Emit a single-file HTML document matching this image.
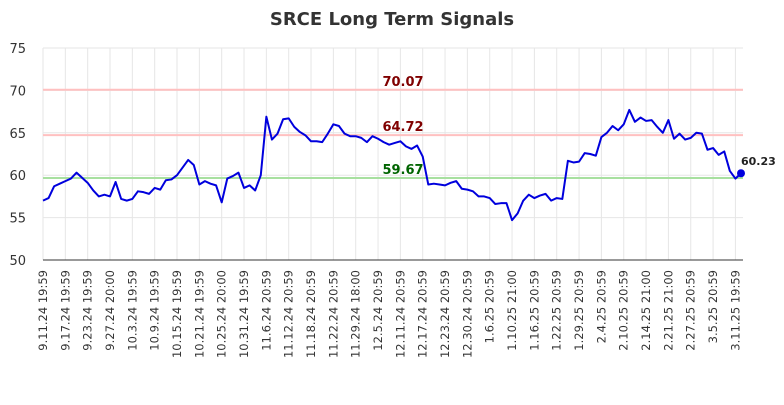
<!DOCTYPE html>
<html><head><meta charset="utf-8"><style>
body{margin:0;background:#fff;font-family:"Liberation Sans","DejaVu Sans",sans-serif}
svg text{font-family:"DejaVu Sans","Liberation Sans",sans-serif}
</style></head><body>
<svg id="chart" width="784" height="400" xmlns="http://www.w3.org/2000/svg">
<text x="392" y="25" text-anchor="middle" font-size="18" font-weight="bold" fill="#333">SRCE Long Term Signals</text>
<g id="grid"></g><g id="lines"></g><g id="axes"></g>
</svg>
<script>
const values=[57.0,57.3,58.7,59.0,59.3,59.6,60.3,59.7,59.1,58.2,57.5,57.7,57.5,59.2,57.2,57.0,57.2,58.1,58.0,57.8,58.5,58.3,59.4,59.5,60.0,60.9,61.8,61.2,58.9,59.3,59.0,58.8,56.8,59.6,59.9,60.3,58.5,58.8,58.2,60.0,66.9,64.2,64.9,66.6,66.7,65.7,65.1,64.7,64.0,64.0,63.9,64.9,66.0,65.8,64.9,64.6,64.6,64.4,63.9,64.6,64.3,63.9,63.6,63.8,64.0,63.4,63.1,63.5,62.2,58.9,59.0,58.9,58.8,59.1,59.3,58.4,58.3,58.1,57.5,57.5,57.3,56.6,56.7,56.7,54.7,55.5,57.0,57.7,57.3,57.6,57.8,57.0,57.3,57.2,61.7,61.5,61.6,62.6,62.5,62.3,64.5,65.0,65.8,65.3,66.0,67.7,66.3,66.8,66.4,66.5,65.7,65.0,66.5,64.3,64.9,64.2,64.4,65.0,64.9,63.0,63.2,62.4,62.8,60.5,59.6,60.23];
const xLabels=["9.11.24 19:59","9.17.24 19:59","9.23.24 19:59","9.27.24 20:00","10.3.24 19:59","10.9.24 19:59","10.15.24 19:59","10.21.24 19:59","10.25.24 20:00","10.31.24 19:59","11.6.24 20:59","11.12.24 20:59","11.18.24 20:59","11.22.24 20:59","11.29.24 18:00","12.5.24 20:59","12.11.24 20:59","12.17.24 20:59","12.23.24 20:59","12.30.24 20:59","1.6.25 20:59","1.10.25 21:00","1.16.25 20:59","1.22.25 20:59","1.29.25 20:59","2.4.25 20:59","2.10.25 20:59","2.14.25 21:00","2.21.25 21:00","2.27.25 20:59","3.5.25 20:59","3.11.25 19:59"];
const yTicks=[50,55,60,65,70,75];
const levels=[70.07,64.72,59.67];
const levelColors=["#ffc0c0","#ffc0c0","#a8e0a0"];
const levelText=["#800000","#800000","#006400"];
const lastValue=60.23;
const NS="http://www.w3.org/2000/svg";
const X0=43,X1=741,Y0=260,Y1=48,VMIN=50,VMAX=75;
const xs=i=>X0+i*(X1-X0)/(values.length-1);
const ys=v=>Y0-(v-VMIN)*(Y0-Y1)/(VMAX-VMIN);
function mk(t,a,p){const e=document.createElementNS(NS,t);for(const k in a)e.setAttribute(k,a[k]);p.appendChild(e);return e;}
const grid=document.getElementById('grid'),lines=document.getElementById('lines'),axes=document.getElementById('axes');
yTicks.forEach(v=>{
 const l=mk('line',{x1:X0,x2:743,y1:ys(v),y2:ys(v),stroke:'#e6e6e6','stroke-width':1},grid);
 
 
 const t=mk('text',{x:26,y:ys(v)+5,'text-anchor':'end','font-size':13,fill:'#333'},axes);
 t.textContent=v;
 
 
});
xLabels.forEach((s,k)=>{
 const x=xs(k*4);
 const l=mk('line',{x1:x,x2:x,y1:Y1,y2:Y0,stroke:'#e6e6e6','stroke-width':1},grid);
 
 
 const t=mk('text',{x:0,y:0,'text-anchor':'end','font-size':11.5,fill:'#333',transform:`translate(${x+4},270) rotate(-90)`},axes);
 t.textContent=s;
 
 
});
const ax=mk('line',{x1:X0,x2:743,y1:Y0,y2:Y0,stroke:'#333','stroke-width':1},axes);


levels.forEach((v,k)=>{
 const l=mk('line',{x1:X0,x2:743,y1:ys(v),y2:ys(v),stroke:levelColors[k],'stroke-width':2},lines);
 
 
 const t=mk('text',{x:403,y:ys(v)-4,'text-anchor':'middle','font-size':13,'font-weight':'bold',fill:levelText[k]},lines);
 t.textContent=v.toFixed(2);
 
 
});
const p=mk('polyline',{points:values.map((v,i)=>xs(i)+','+ys(v)).join(' '),fill:'none',stroke:'#0000dd','stroke-width':2,'stroke-linejoin':'round'},lines);


const li=values.length-1;
const d=mk('circle',{cx:xs(li),cy:ys(lastValue),r:4,fill:'#0000dd'},lines);


const lt=mk('text',{x:xs(li),y:ys(lastValue)-8,'font-size':11,'font-weight':'bold',fill:'#222'},lines);
lt.textContent=lastValue.toFixed(2);


</script>
</body></html>
